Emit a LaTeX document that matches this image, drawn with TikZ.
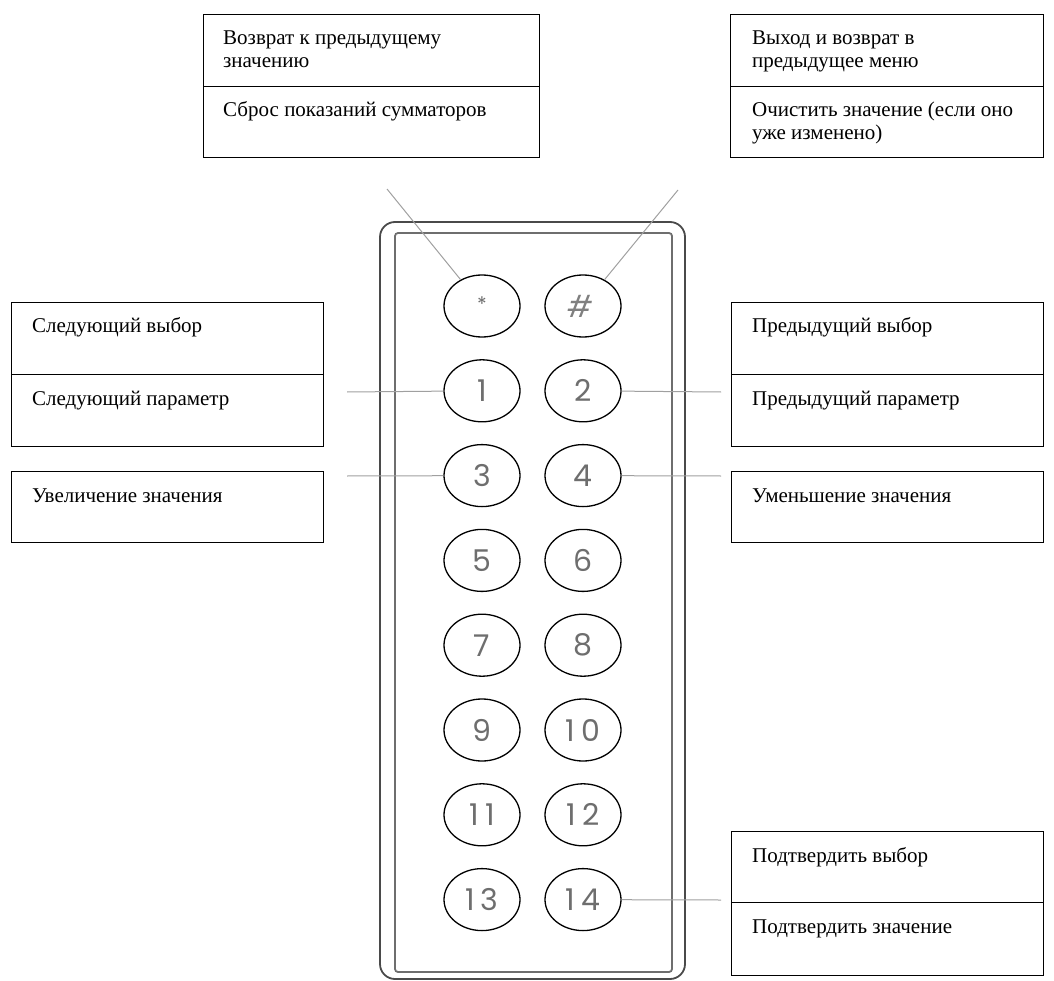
\documentclass[tikz,border=0pt]{standalone}
\usepackage{fontspec}
\setmainfont{Liberation Serif}
\newfontfamily\keyfont[LetterSpace=20]{Poppins}
\usetikzlibrary{shapes.geometric}

\definecolor{leadgray}{HTML}{A0A0A0}
\definecolor{framegray}{HTML}{4A4A4A}
\definecolor{digitgray}{HTML}{6E6E6E}

\begin{document}
\begin{tikzpicture}[x=1pt,y=-1pt,
    cell/.style={rectangle,draw,line width=1.4pt,anchor=north west,inner sep=0pt},
    celltext/.style={anchor=base west,inner sep=0pt,align=left,font=\fontsize{21}{23}\selectfont},
    keybtn/.style={ellipse,draw,line width=1.3pt,minimum width=76pt,minimum height=62pt,inner sep=0pt,
                   text=digitgray,font=\keyfont\fontsize{30}{30}\selectfont},
    lead/.style={leadgray,line width=1pt}]
    \useasboundingbox (0,0) rectangle (1054,981);

    % Keypad frame
    \draw[framegray,line width=1.8pt,rounded corners=15pt] (380,222) rectangle (685,979);
    \draw[framegray!80,line width=1.8pt,rounded corners=3pt] (395,233) rectangle (672,972);

    % Buttons
    \foreach \l/\r [count=\i from 0] in {{\raisebox{4pt}{\fontsize{20}{20}\selectfont*}}/\textcolor{gray}{\textit{\#}},1/2,3/4,5/6,7/8,9/10,11/12,13/14}{
        \node[keybtn] (kl\i) at (482,306+84.8*\i) {\l};
        \node[keybtn] (kr\i) at (583,306+84.8*\i) {\r};
    }

    % Top left box
    \node[cell,minimum width=336pt,minimum height=72pt] (backcell) at (203,14) {};
    \node[cell,minimum width=336pt,minimum height=71pt] (resetcell) at (203,86) {};
    \node[celltext] (backtxt) at (223,45) {\begin{tabular}[t]{@{}l@{}}Возврат к предыдущему\\значению\end{tabular}};
    \node[celltext] (resettxt) at (223,117) {Сброс показаний сумматоров};

    % Top right box
    \node[cell,minimum width=313pt,minimum height=72pt] (exitcell) at (730,14) {};
    \node[cell,minimum width=313pt,minimum height=71pt] (clearcell) at (730,86) {};
    \node[celltext] (exittxt) at (752,45) {\begin{tabular}[t]{@{}l@{}}Выход и возврат в\\предыдущее меню\end{tabular}};
    \node[celltext] (cleartxt) at (752,117) {\begin{tabular}[t]{@{}l@{}}Очистить значение (если оно\\уже изменено)\end{tabular}};

    % Left boxes
    \node[cell,minimum width=312pt,minimum height=72pt] (nextselcell) at (11,302) {};
    \node[cell,minimum width=312pt,minimum height=72pt] (nextparcell) at (11,374) {};
    \node[cell,minimum width=312pt,minimum height=71pt] (inccell) at (11,471) {};
    \node[celltext] (nextseltxt) at (32,333) {Следующий выбор};
    \node[celltext] (nextpartxt) at (32,405) {Следующий параметр};
    \node[celltext] (inctxt) at (32,502) {Увеличение значения};

    % Right boxes
    \node[cell,minimum width=312pt,minimum height=72pt] (prevselcell) at (731,302) {};
    \node[cell,minimum width=312pt,minimum height=72pt] (prevparcell) at (731,374) {};
    \node[cell,minimum width=312pt,minimum height=71pt] (deccell) at (731,471) {};
    \node[celltext] (prevseltxt) at (752,333) {Предыдущий выбор};
    \node[celltext] (prevpartxt) at (752,405) {Предыдущий параметр};
    \node[celltext] (dectxt) at (752,502) {Уменьшение значения};

    % Bottom right box
    \node[cell,minimum width=312pt,minimum height=71pt] (oksel) at (731,831) {};
    \node[cell,minimum width=312pt,minimum height=73pt] (okval) at (731,902) {};
    \node[celltext] (okseltxt) at (752,862) {Подтвердить выбор};
    \node[celltext] (okvaltxt) at (752,933) {Подтвердить значение};

    % Leader lines
    \coordinate (starend) at (387,189);
    \coordinate (hashend) at (678,190);
    \coordinate (oneend) at (347,392);
    \coordinate (threeend) at (347,476);
    \coordinate (twoend) at (721,392);
    \coordinate (fourend) at (721,476);
    \coordinate (fourteenend) at (721,900);
    \draw[lead] (starend) -- (kl0);
    \draw[lead] (hashend) -- (kr0);
    \draw[lead] (oneend) -- (kl1);
    \draw[lead] (threeend) -- (kl2);
    \draw[lead] (kr1) -- (twoend);
    \draw[lead] (kr2) -- (fourend);
    \draw[lead] (kr7) -- (fourteenend);
\end{tikzpicture}
\end{document}
